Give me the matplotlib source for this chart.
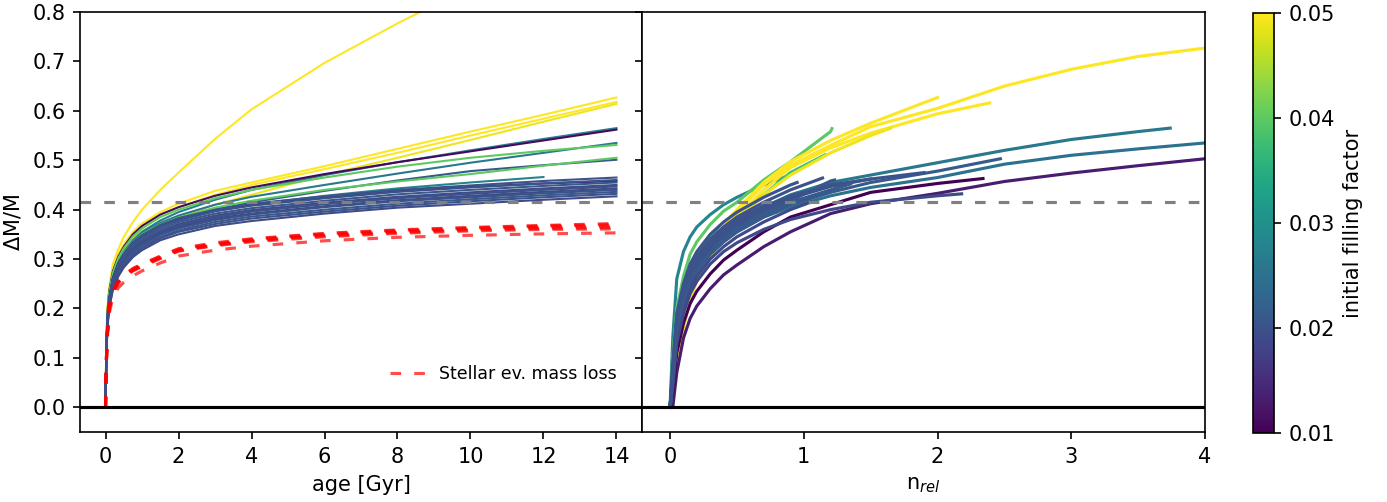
## Imports

from matplotlib import pyplot as plt
import matplotlib as mpl
import numpy as np

## Donnees

# grille en age [Gyr] pour le panneau de gauche
age = [0, 0.02, 0.05, 0.1, 0.2, 0.35, 0.5, 0.75, 1, 1.5, 2, 3, 4, 6, 8, 10, 12, 14]

# facteur de remplissage initial de chaque simulation (panneau gauche)
left_ff = [0.050, 0.050, 0.050, 0.049, 0.027, 0.011, 0.026, 0.040, 0.021, 0.040,
           0.028, 0.012, 0.020, 0.020, 0.021, 0.019, 0.020, 0.019, 0.020, 0.021,
           0.020, 0.019]

# dM/M aux ages de la grille
left_dm = [
    [0, .12, .19, .24, .29, .32, .345, .375, .40, .44, .475, .543, .603, .697, .777, .85, .92, .99],
    [0, .13, .20, .24, .28, .31, .33, .355, .372, .395, .412, .438, .455, .488, .523, .558, .592, .627],
    [0, .12, .19, .235, .275, .305, .325, .35, .366, .389, .405, .43, .45, .482, .515, .55, .584, .618],
    [0, .12, .185, .23, .27, .30, .32, .342, .357, .374, .385, .41, .43, .47, .505, .541, .578, .614],
    [0, .11, .18, .225, .265, .295, .315, .338, .355, .378, .395, .42, .44, .47, .496, .52, .543, .565],
    [0, .12, .19, .235, .275, .305, .325, .35, .367, .39, .405, .428, .445, .472, .496, .518, .54, .562],
    [0, .11, .18, .225, .265, .294, .313, .336, .352, .373, .388, .41, .426, .45, .473, .495, .515, .535],
    [0, .12, .19, .232, .272, .302, .322, .346, .362, .385, .40, .423, .44, .465, .487, .505, .519, .531],
    [0, .10, .175, .218, .258, .288, .306, .328, .344, .365, .38, .40, .415, .438, .459, .478, .49, .501],
    [0, .11, .18, .225, .265, .294, .312, .334, .35, .37, .384, .404, .418, .44, .457, .472, .489, .505],
    [0, .11, .178, .22, .26, .29, .308, .33, .345, .365, .378, .397, .41, .428, .443, .455, .466],
    [0, .11, .18, .22, .262, .292, .31, .333, .348, .368, .381, .398, .409, .424, .437, .446, .453, .458],
    [0, .10, .18, .22, .26, .29, .31, .333, .348, .369, .383, .40, .412, .427, .44, .449, .458, .465],
    [0, .10, .175, .215, .257, .288, .307, .33, .345, .366, .379, .397, .408, .423, .436, .445, .453, .460],
    [0, .10, .173, .214, .255, .285, .303, .326, .341, .361, .375, .392, .403, .418, .431, .44, .448, .455],
    [0, .10, .17, .211, .252, .282, .30, .322, .337, .357, .371, .388, .399, .414, .426, .435, .443, .450],
    [0, .10, .17, .21, .25, .28, .298, .32, .335, .355, .368, .385, .396, .411, .423, .432, .44, .447],
    [0, .10, .168, .208, .247, .277, .295, .317, .332, .352, .365, .382, .392, .407, .419, .428, .436, .443],
    [0, .10, .167, .207, .245, .275, .293, .315, .329, .349, .362, .379, .39, .405, .417, .425, .433, .440],
    [0, .09, .165, .205, .243, .272, .29, .311, .326, .345, .358, .375, .386, .40, .412, .421, .429, .436],
    [0, .09, .163, .202, .24, .269, .287, .308, .322, .342, .355, .371, .382, .396, .408, .417, .425, .432],
    [0, .09, .16, .20, .237, .265, .283, .304, .318, .338, .35, .367, .377, .392, .404, .412, .42, .427],
]

# perte de masse par evolution stellaire
stellar_dm = [
    [0, .09, .15, .20, .236, .256, .267, .281, .290, .306, .321, .333, .341, .352, .359, .364, .368, .372],
    [0, .09, .15, .20, .235, .255, .266, .280, .289, .305, .320, .331, .340, .351, .358, .363, .367, .370],
    [0, .09, .15, .20, .234, .254, .265, .278, .287, .303, .318, .329, .338, .349, .356, .361, .365, .367],
    [0, .09, .15, .20, .233, .253, .264, .277, .286, .302, .317, .328, .337, .347, .354, .359, .362, .364],
    [0, .09, .15, .20, .232, .252, .263, .276, .285, .301, .316, .327, .335, .345, .352, .357, .360, .361],
    [0, .08, .14, .19, .222, .242, .253, .266, .276, .292, .306, .318, .326, .337, .344, .348, .351, .353],
]

# grille en n_rel pour le panneau de droite
n_grid = [0, 0.02, 0.05, 0.1, 0.15, 0.2, 0.3, 0.4, 0.5, 0.7, 0.9, 1.2, 1.5, 2.0, 2.5, 3.0, 3.5, 4.0, 4.5]

right_ff = [0.028, 0.040, 0.038, 0.050, 0.050, 0.050, 0.049, 0.026, 0.025, 0.013,
            0.010, 0.021, 0.019, 0.020, 0.020, 0.021, 0.020, 0.019, 0.020, 0.021, 0.020]

# n_rel final de chaque simulation
right_nend = [0.87, 1.21, 1.16, 2.0, 2.39, 4.5, 1.65, 3.74, 4.2, 4.5,
              2.34, 2.47, 2.18, 1.14, 1.5, 1.23, 1.9, 1.05, 0.75, 1.35, 0.95]

# dM/M aux points de la grille (puis au point final)
right_dm = [
    [0, .14, .26, .315, .345, .365, .39, .41, .425, .45, .467],
    [0, .10, .20, .265, .31, .335, .37, .397, .415, .46, .497, .558, .564],
    [0, .09, .19, .25, .285, .31, .345, .37, .39, .43, .475, .511],
    [0, .03, .10, .18, .24, .28, .33, .37, .40, .455, .497, .54, .575, .627],
    [0, .02, .09, .17, .23, .265, .315, .355, .385, .44, .485, .525, .555, .594, .616],
    [0, .03, .10, .18, .24, .275, .325, .365, .395, .45, .49, .53, .568, .605, .65, .684, .71, .727, .745],
    [0, .02, .08, .16, .22, .255, .305, .345, .375, .43, .47, .515, .55, .565],
    [0, .06, .17, .23, .27, .295, .33, .355, .375, .405, .43, .455, .47, .495, .52, .542, .558, .565],
    [0, .05, .15, .21, .25, .275, .31, .335, .355, .385, .405, .428, .445, .465, .492, .51, .523, .535, .54],
    [0, 0, .07, .14, .18, .205, .24, .268, .288, .325, .355, .392, .412, .433, .457, .474, .489, .503, .515],
    [0, .03, .11, .17, .21, .235, .27, .298, .318, .355, .385, .41, .435, .453, .463],
    [0, .05, .15, .21, .25, .275, .31, .335, .355, .385, .41, .435, .455, .478, .503],
    [0, .04, .13, .19, .23, .255, .29, .315, .333, .36, .38, .40, .415, .428, .432],
    [0, .08, .18, .24, .28, .305, .34, .365, .385, .415, .44, .464],
    [0, .07, .17, .23, .27, .295, .33, .356, .375, .405, .428, .45, .462],
    [0, .06, .16, .22, .26, .285, .32, .345, .365, .395, .418, .458, .46],
    [0, .06, .165, .225, .265, .29, .325, .35, .37, .40, .423, .447, .462, .475],
    [0, .05, .14, .20, .24, .265, .30, .325, .345, .375, .40, .415],
    [0, .07, .17, .235, .275, .30, .335, .36, .38, .408, .415],
    [0, .06, .155, .215, .255, .28, .315, .34, .36, .39, .415, .44, .452],
    [0, .09, .19, .25, .29, .315, .35, .375, .395, .425, .45, .455],
]

seuil = 0.416

## Figure

W, H, dpi = 1387, 502, 150
fig = plt.figure(figsize=(W / dpi, H / dpi), dpi=dpi)
ax1 = fig.add_axes([80 / W, 70 / H, 562 / W, 420 / H])
ax2 = fig.add_axes([642 / W, 70 / H, 563 / W, 420 / H], sharey=ax1)
cax = fig.add_axes([1253 / W, 69 / H, 21 / W, 420 / H])

cmap = plt.get_cmap('viridis')
norm = mpl.colors.Normalize(vmin=0.01, vmax=0.05)
tirets = (0, (3.4, 4.2))

# panneau gauche : dM/M en fonction de l'age
for ff, dm in zip(left_ff, left_dm):
    ax1.plot(age[:len(dm)], dm, color=cmap(norm(ff)), lw=1)

for i, dm in enumerate(stellar_dm):
    lab = 'Stellar ev. mass loss' if i == 0 else None
    ax1.plot(age, dm, color='red', lw=1.5, alpha=0.7, linestyle=tirets, label=lab)

# panneau droit : dM/M en fonction de n_rel
for ff, nend, dm in zip(right_ff, right_nend, right_dm):
    k = len(dm) - 1
    x = n_grid[:k] + [nend]
    ax2.plot(x, dm, color=cmap(norm(ff)), lw=1.5)

for ax in (ax1, ax2):
    ax.axhline(0, color='k', lw=1.5)
    ax.axhline(seuil, color='gray', lw=1.5, linestyle=tirets)

ax1.set_ylim(-0.05, 0.8)
ax1.set_xlim(-0.7, 14.7)
ax2.set_xlim(-0.21, 4)
ax1.set_xticks(np.arange(0, 15, 2))
ax2.set_xticks([0, 1, 2, 3, 4])
ax1.set_yticks(np.arange(0, 0.81, 0.1))
ax2.tick_params(labelleft=False)

ax1.set_xlabel('age [Gyr]')
ax2.set_xlabel(r'n$_{rel}$')
ax1.set_ylabel(r'$\Delta$M/M')
ax1.legend(loc='lower right', bbox_to_anchor=(0.982, 0.08), frameon=False, fontsize='small')

sm = mpl.cm.ScalarMappable(norm=norm, cmap=cmap)
cb = fig.colorbar(sm, cax=cax)
cb.set_ticks([0.01, 0.02, 0.03, 0.04, 0.05])
cb.set_label('initial filling factor')

plt.savefig('out.png', dpi=dpi)
